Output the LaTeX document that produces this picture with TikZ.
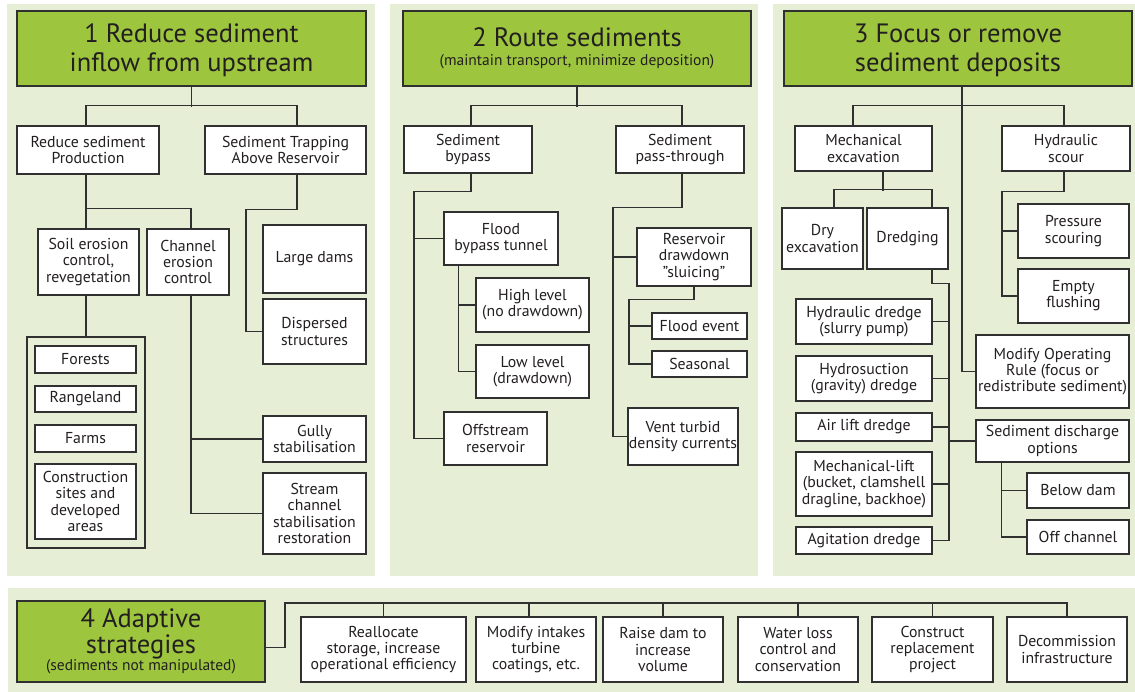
\documentclass[tikz,border=0pt]{standalone}
\usepackage{fontspec}
\setmainfont{PT Sans}
\usetikzlibrary{calc}
\definecolor{panel}{HTML}{E6EFD5}
\definecolor{tgreen}{HTML}{9DC63E}
\definecolor{ink}{HTML}{231F20}
\definecolor{edge}{HTML}{303030}
\tikzset{
  bx/.style={draw=edge, line width=1.2pt, fill=white, align=center, inner sep=0.5pt, text=ink,
    font={\fontsize{15.8}{16.2}\selectfont\lineskiplimit=-50pt}},
  ttl/.style={draw=edge, line width=1.2pt, fill=tgreen, align=center, inner sep=1pt, text=ink,
    font={\fontsize{26.5}{29}\selectfont\lineskiplimit=-50pt}},
  grp/.style={draw=edge, line width=2.6pt, inner sep=0pt},
  ln/.style={draw=edge, line width=1.2pt},
}
\newcommand\mybox[7]{\node[#1, minimum width={(#5-#3)*1pt}, minimum height={(#6-#4)*1pt}] (#2) at ({(#3+#5)/2},{(#4+#6)/2}) {#7};}
\newcommand\subt[1]{{\fontsize{15.5}{16}\selectfont #1}}
\begin{document}
\begin{tikzpicture}[x=1pt,y=-1pt]
\useasboundingbox (0,0) rectangle (1135,692);
% panels
\fill[panel] (7,4) rectangle (375,576);
\fill[panel] (390,4) rectangle (758,576);
\fill[panel] (773,4) rectangle (1135,576);
\fill[panel] (8,588) rectangle (1135,692);

% ---------- panel 1 ----------
\mybox{ttl}{t1}{17}{11}{366}{86}{\rule{0pt}{23pt}1 Reduce sediment\\inflow from upstream}
\mybox{bx}{rsp}{17}{126}{159}{174}{Reduce sediment\\Production}
\mybox{bx}{stab}{205}{126}{366}{174}{Sediment Trapping\\Above Reservoir}
\mybox{bx}{soil}{38}{229}{139}{295}{Soil erosion\\control,\\revegetation}
\mybox{bx}{chan}{147}{229}{229}{295}{Channel\\erosion\\control}
\mybox{bx}{ld}{263}{225}{366}{293}{Large dams}
\mybox{bx}{disp}{263}{299}{366}{364}{Dispersed\\structures}
\mybox{grp}{frame}{27}{337}{145}{548}{}
\mybox{bx}{for}{35}{346}{136}{373}{Forests}
\mybox{bx}{ran}{35}{386}{136}{412}{Rangeland}
\mybox{bx}{farm}{35}{425}{136}{452}{Farms}
\mybox{bx}{cons}{35}{464}{136}{539}{Construction\\sites and\\developed\\areas}
\mybox{bx}{gully}{263}{416}{366}{462}{Gully\\stabilisation}
\mybox{bx}{stream}{263}{473}{366}{554}{Stream\\channel\\stabilisation\\restoration}

\draw[ln] (t1.south) -- ++(0,20);
\draw[ln] ([xshift=-2pt]rsp.north) -- ++(0,-20) -| ([xshift=11.5pt]stab.north);
\draw[ln] ([xshift=-2pt]rsp.south) -- ([xshift=-2.5pt]soil.north);
\draw[ln] ([xshift=-2.5pt]soil.north) -- ++(0,-20) -| ([xshift=3pt]chan.north);
\draw[ln] (frame.north) -- (frame.north |- soil.south);
\coordinate (c1) at ([xshift=3pt]chan.south);
\draw[ln] (c1) |- (stream.west);
\draw[ln] (gully.west) -- (gully.west -| c1);
\draw[ln] ([xshift=11.5pt]stab.south) -- ++(0,35) -- ++(-51,0) |- (disp.west);

% ---------- panel 2 ----------
\mybox{ttl}{t2}{403}{11}{751}{86}{2 Route sediments\\[-10pt]\subt{(maintain transport, minimize deposition)}}
\mybox{bx}{byp}{404}{126}{532}{173}{Sediment\\bypass}
\mybox{bx}{pt}{616}{126}{744}{173}{Sediment\\pass-through}
\mybox{bx}{fbt}{444}{212}{558}{265}{Flood\\bypass tunnel}
\mybox{bx}{hl}{476}{278}{589}{332}{High level\\(no drawdown)}
\mybox{bx}{ll}{476}{345}{589}{398}{Low level\\(drawdown)}
\mybox{bx}{off}{444}{412}{547}{465}{Offstream\\reservoir}
\mybox{bx}{rd}{637}{228}{751}{286}{Reservoir\\drawdown\\”sluicing”}
\mybox{bx}{fe}{652}{313}{747}{339}{Flood event}
\mybox{bx}{seas}{652}{351}{747}{377}{Seasonal}
\mybox{bx}{vent}{628}{408}{738}{465}{Vent turbid\\density currents}

\draw[ln] (t2.south) -- ++(0,20);
\draw[ln] ([xshift=3pt]byp.north) -- ++(0,-20) -| ([xshift=2pt]pt.north);
\draw[ln] ([xshift=3pt]byp.south) |- ++(-57,18) |- (off.west);
\draw[ln] (fbt.west) -- ++(-30,0);
\draw[ln] ([xshift=15pt]fbt.south west) |- (ll.west);
\draw[ln] (hl.west) -- ++(-17,0);
\draw[ln] ([xshift=2pt]pt.south) |- ++(-69,34) |- (vent.west);
\draw[ln] (rd.west) -- ++(-24,0);
\draw[ln] (rd.south) |- ++(-65,13) |- (seas.west);
\draw[ln] (fe.west) -- ++(-23,0);

% ---------- panel 3 ----------
\mybox{ttl}{t3}{784}{11}{1132}{86}{\rule{0pt}{23pt}3 Focus or remove\\sediment deposits}
\mybox{bx}{me}{795}{126}{932}{171}{Mechanical\\excavation}
\mybox{bx}{hs}{1002}{126}{1130}{171}{Hydraulic\\scour}
\mybox{bx}{dry}{782}{208}{863}{269}{Dry\\excavation}
\mybox{bx}{dr}{867}{208}{948}{269}{Dredging}
\mybox{bx}{ps}{1018}{204}{1129}{258}{Pressure\\scouring}
\mybox{bx}{ef}{1018}{269}{1129}{323}{Empty\\flushing}
\mybox{bx}{hd}{796}{299}{932}{344}{Hydraulic dredge\\(slurry pump)}
\mybox{bx}{hyd}{796}{356}{932}{401}{Hydrosuction\\(gravity) dredge}
\mybox{bx}{air}{796}{413}{932}{441}{Air lift dredge}
\mybox{bx}{ml}{796}{452}{932}{516}{Mechanical-lift\\(bucket, clamshell\\dragline, backhoe)}
\mybox{bx}{ag}{796}{527}{932}{554}{Agitation dredge}
\mybox{bx}{mor}{976}{335}{1129}{408}{Modify Operating\\Rule (focus or\\redistribute sediment)}
\mybox{bx}{sdo}{976}{420}{1129}{462}{Sediment discharge\\options}
\mybox{bx}{bd}{1027}{473}{1129}{508}{Below dam}
\mybox{bx}{oc}{1027}{520}{1129}{554}{Off channel}

\draw[ln] ([xshift=4pt]t3.south) |- (mor.west);
\draw[ln] ([xshift=-10.5pt]me.north) -- ++(0,-20) -| ([xshift=-2pt]hs.north);
\draw[ln] ([xshift=19.5pt]me.south) -- ++(0,19);
\draw[ln] ([xshift=11.5pt]dry.north) -- ++(0,-18) -| ([xshift=24.5pt]dr.north);
\draw[ln] ([xshift=24.5pt]dr.south) |- ++(17,14) |- (ag.east);
\draw[ln] (hd.east) -- ++(17,0);
\draw[ln] (hyd.east) -- ++(17,0);
\draw[ln] (air.east) -- ++(17,0);
\draw[ln] (ml.east) -- ++(17,0);
\draw[ln] (sdo.west) -- ++(-27,0);
\draw[ln] ([xshift=-2pt]hs.south) |- ++(-62,20) |- (ef.west);
\draw[ln] (ps.west) -- ++(-16,0);
\draw[ln] ([xshift=26pt]sdo.south west) |- (oc.west);
\draw[ln] (bd.west) -- ++(-25,0);

% ---------- panel 4 ----------
\mybox{ttl}{t4}{17}{601}{265}{682}{4 Adaptive\\[-3pt]strategies\\[-12pt]\subt{(sediments not manipulated)}}
\mybox{bx}{re}{301}{617}{466}{682}{Reallocate\\storage, increase\\operational efficiency}
\mybox{bx}{mi}{476}{617}{596}{682}{Modify intakes\\turbine\\coatings, etc.}
\mybox{bx}{rdv}{603}{617}{723}{682}{Raise dam to\\increase\\volume}
\mybox{bx}{wl}{738}{617}{858}{682}{Water loss\\control and\\conservation}
\mybox{bx}{crp}{872}{617}{993}{682}{Construct\\replacement\\project}
\mybox{bx}{dec}{1007}{617}{1127}{682}{Decommission\\infrastructure}

\coordinate (bus4) at (285,603);
\draw[ln] ([yshift=-6pt]t4.east) -| (bus4) -| (dec.north);
\draw[ln] ([xshift=-7pt]mi.north) -- ([xshift=-7pt]mi.north |- bus4);
\foreach \n in {re,rdv,wl,crp} \draw[ln] (\n.north) -- (\n.north |- bus4);
\end{tikzpicture}
\end{document}
